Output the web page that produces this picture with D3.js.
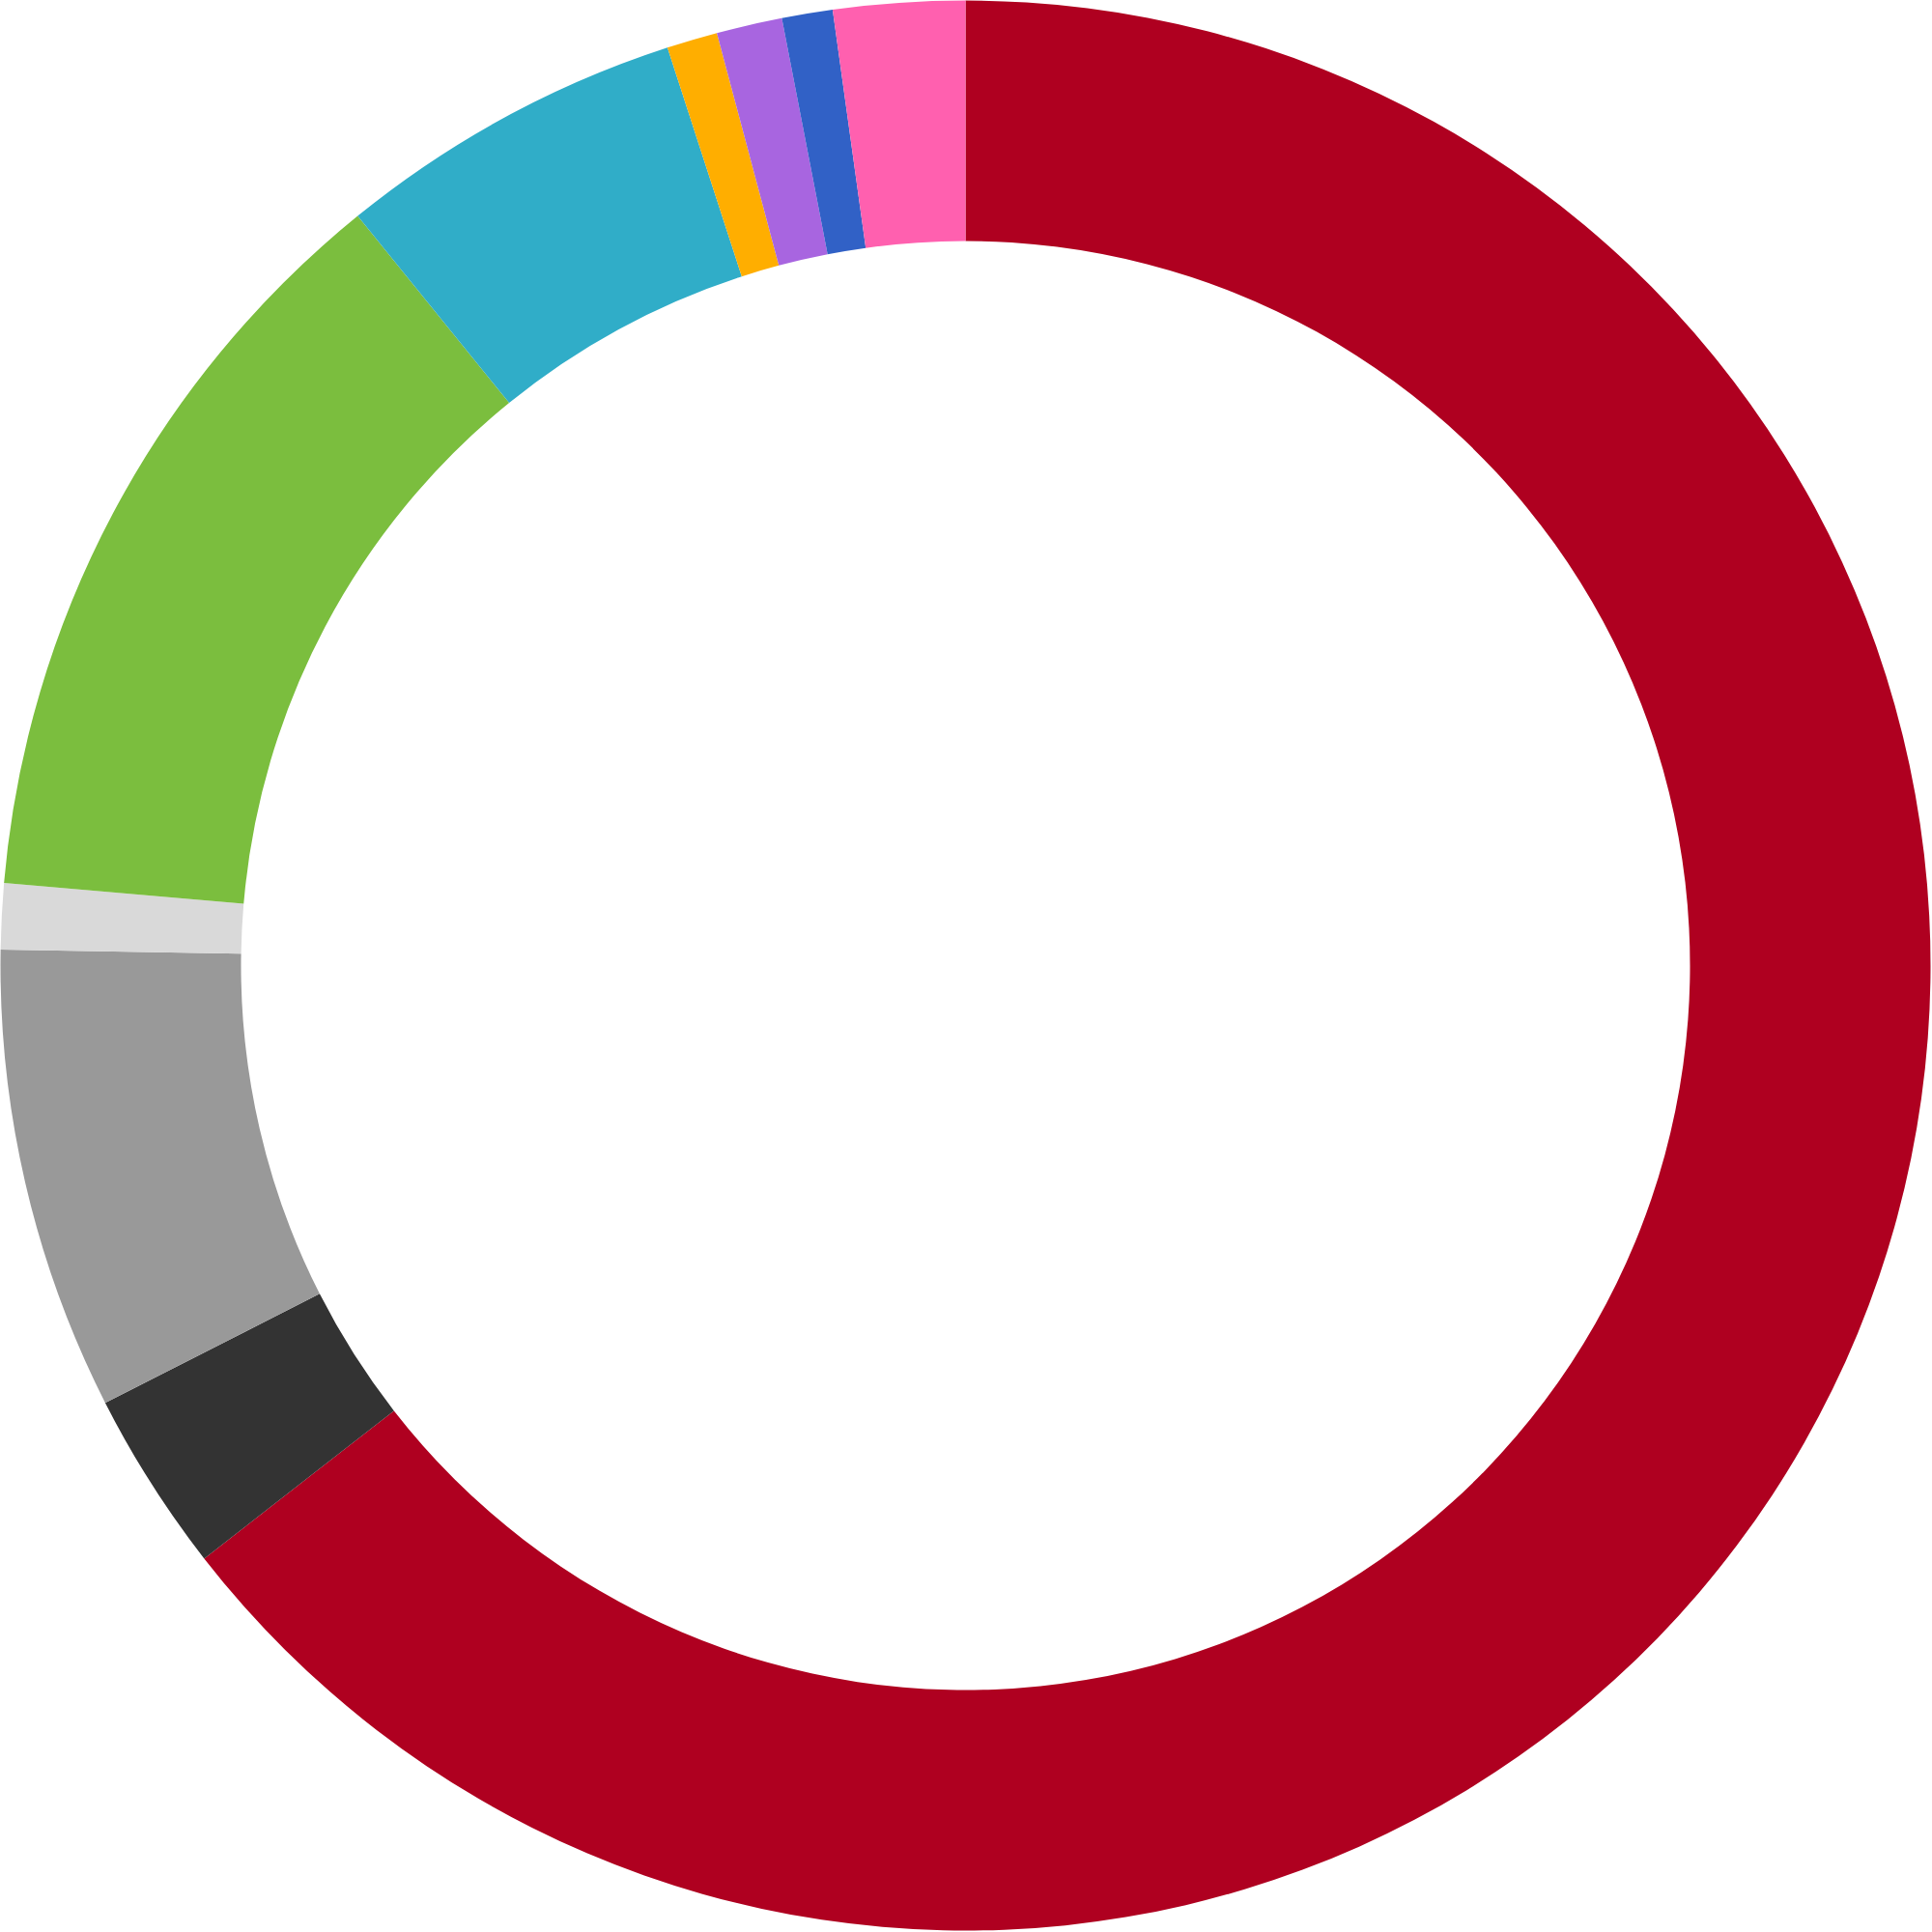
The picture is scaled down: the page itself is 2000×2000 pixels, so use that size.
<!DOCTYPE html>
<html>
<head>
<meta charset="utf-8">
<script src="https://cdn.jsdelivr.net/npm/d3@7"></script>
<style>
  html, body { margin: 0; padding: 0; background: #fff; }
  svg { display: block; }
</style>
</head>
<body>
<svg id="chart" width="2000" height="2000"></svg>
<script>
const categories = ["S1", "S2", "S3", "S4", "S5", "S6", "S7", "S8", "S9", "S10"];
const values = [64.5, 3.05, 7.75, 1.1, 12.8, 5.85, 0.85, 1.1, 0.85, 2.2];
const colors = ["#AF0020", "#333333", "#999999", "#D9D9D9", "#7BBE3E", "#30ADC8", "#FFAE00", "#A865E0", "#3161C6", "#FF60AF"];

const cx = 999.5, cy = 999.5;
const outerR = 999;
const innerR = 750;

const data = categories.map((c, i) => ({ name: c, value: values[i], color: colors[i] }));

const pie = d3.pie().value(d => d.value).sort(null);
const arc = d3.arc().innerRadius(innerR).outerRadius(outerR);

const svg = d3.select("#chart");
const g = svg.append("g").attr("transform", `translate(${cx},${cy})`);
g.selectAll("path")
  .data(pie(data))
  .join("path")
  .attr("d", arc)
  .attr("fill", d => d.data.color);
</script>
</body>
</html>
